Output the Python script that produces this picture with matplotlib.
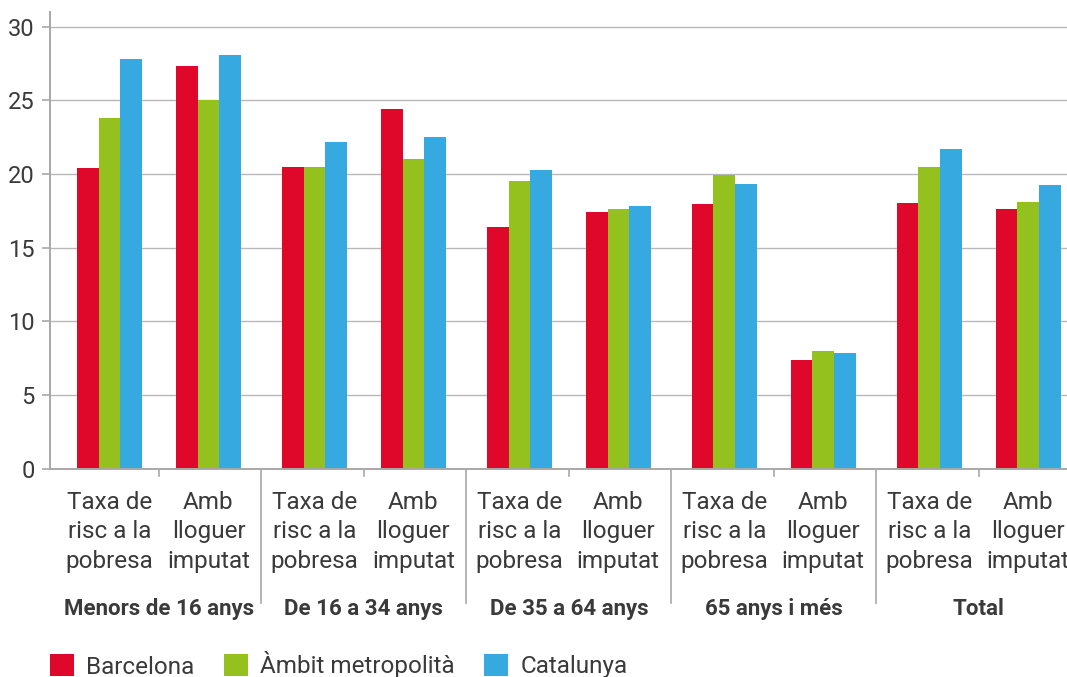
import matplotlib
matplotlib.use("Agg")
import matplotlib.pyplot as plt
from matplotlib.patches import Patch
from matplotlib.transforms import blended_transform_factory
import numpy as np

plt.rcParams['font.family'] = ['Roboto', 'DejaVu Sans']

groups = ["Menors de 16 anys", "De 16 a 34 anys", "De 35 a 64 anys", "65 anys i més", "Total"]
subcats = ["Taxa de\nrisc a la\npobresa", "Amb\nlloguer\nimputat"]
series = ["Barcelona", "Àmbit metropolità", "Catalunya"]
barcelona = [20.4, 27.3, 20.45, 24.4, 16.4, 17.4, 17.95, 7.35, 18.0, 17.65]
ambit = [23.8, 25.0, 20.45, 21.0, 19.5, 17.6, 19.9, 7.95, 20.45, 18.1]
catalunya = [27.8, 28.05, 22.15, 22.5, 20.25, 17.8, 19.3, 7.85, 21.7, 19.25]
yticks = [0, 5, 10, 15, 20, 25, 30]

colors = ["#E0082A", "#95C11F", "#36A9E1"]
text_color = "#3a3a3a"
grid_color = "#b8b8b8"
axis_color = "#a8a8a8"

W, H = 1067, 677
fig = plt.figure(figsize=(W / 100, H / 100), dpi=100)
left_px, right_px, top_px, bottom_px = 50, 1081, 12, 468.5
ax = fig.add_axes([left_px / W, 1 - bottom_px / H, (right_px - left_px) / W, (bottom_px - top_px) / H])

n = len(barcelona)
x = np.array([k + 0.07 * (k // 2) for k in range(n)])
w = 0.219
for i, (vals, c, name) in enumerate(zip([barcelona, ambit, catalunya], colors, series)):
    ax.bar(x + (i - 1) * w, vals, width=w, color=c, label=name, zorder=3, linewidth=0)

ax.set_xlim(-0.601, 9.813)
ax.set_ylim(0, 31)
ax.set_yticks(yticks)
ax.set_yticklabels([str(t) for t in yticks])
ax.yaxis.grid(True, color=grid_color, linewidth=1.0, zorder=0)
ax.set_axisbelow(True)
for s in ["top", "right"]:
    ax.spines[s].set_visible(False)
ax.spines["left"].set_color(axis_color)
ax.spines["left"].set_linewidth(1.4)
ax.spines["bottom"].set_color(axis_color)
ax.spines["bottom"].set_linewidth(1.4)
ax.spines["bottom"].set_zorder(4)
ax.tick_params(axis="y", length=6, width=1.2, color=axis_color, pad=5, labelsize=17, labelcolor=text_color)

ax.set_xticks(x)
ax.set_xticklabels(subcats * len(groups), fontsize=17.5, color=text_color, linespacing=1.36)
ax.tick_params(axis="x", length=0, pad=16)

trans = blended_transform_factory(ax.transData, ax.transAxes)
axh = bottom_px - top_px
for g in range(len(groups)):
    a, b = x[2 * g], x[2 * g + 1]
    mid = (a + b) / 2
    ax.plot([mid, mid], [0, -7 / axh], transform=trans, color=axis_color, lw=1.2, clip_on=False)
    ax.text(mid, -(609 - bottom_px) / axh, groups[g], transform=trans, ha="center", va="center",
            fontsize=16, fontweight="bold", color=text_color)
    if g < len(groups) - 1:
        sep = (b + x[2 * g + 2]) / 2
        ax.plot([sep, sep], [0, -(603 - bottom_px) / axh], transform=trans, color=axis_color,
                lw=1.2, clip_on=False)

handles = [Patch(facecolor=c, edgecolor="none") for c in colors]
fig.legend(handles, series, loc="center left", bbox_to_anchor=(50 / W, 1 - 665 / H), ncol=3,
           frameon=False, fontsize=17.5, handlelength=1.0, handleheight=1.0, handletextpad=0.5,
           columnspacing=1.2, labelcolor=text_color, borderaxespad=0, borderpad=0)

fig.savefig("out.png", dpi=100)
